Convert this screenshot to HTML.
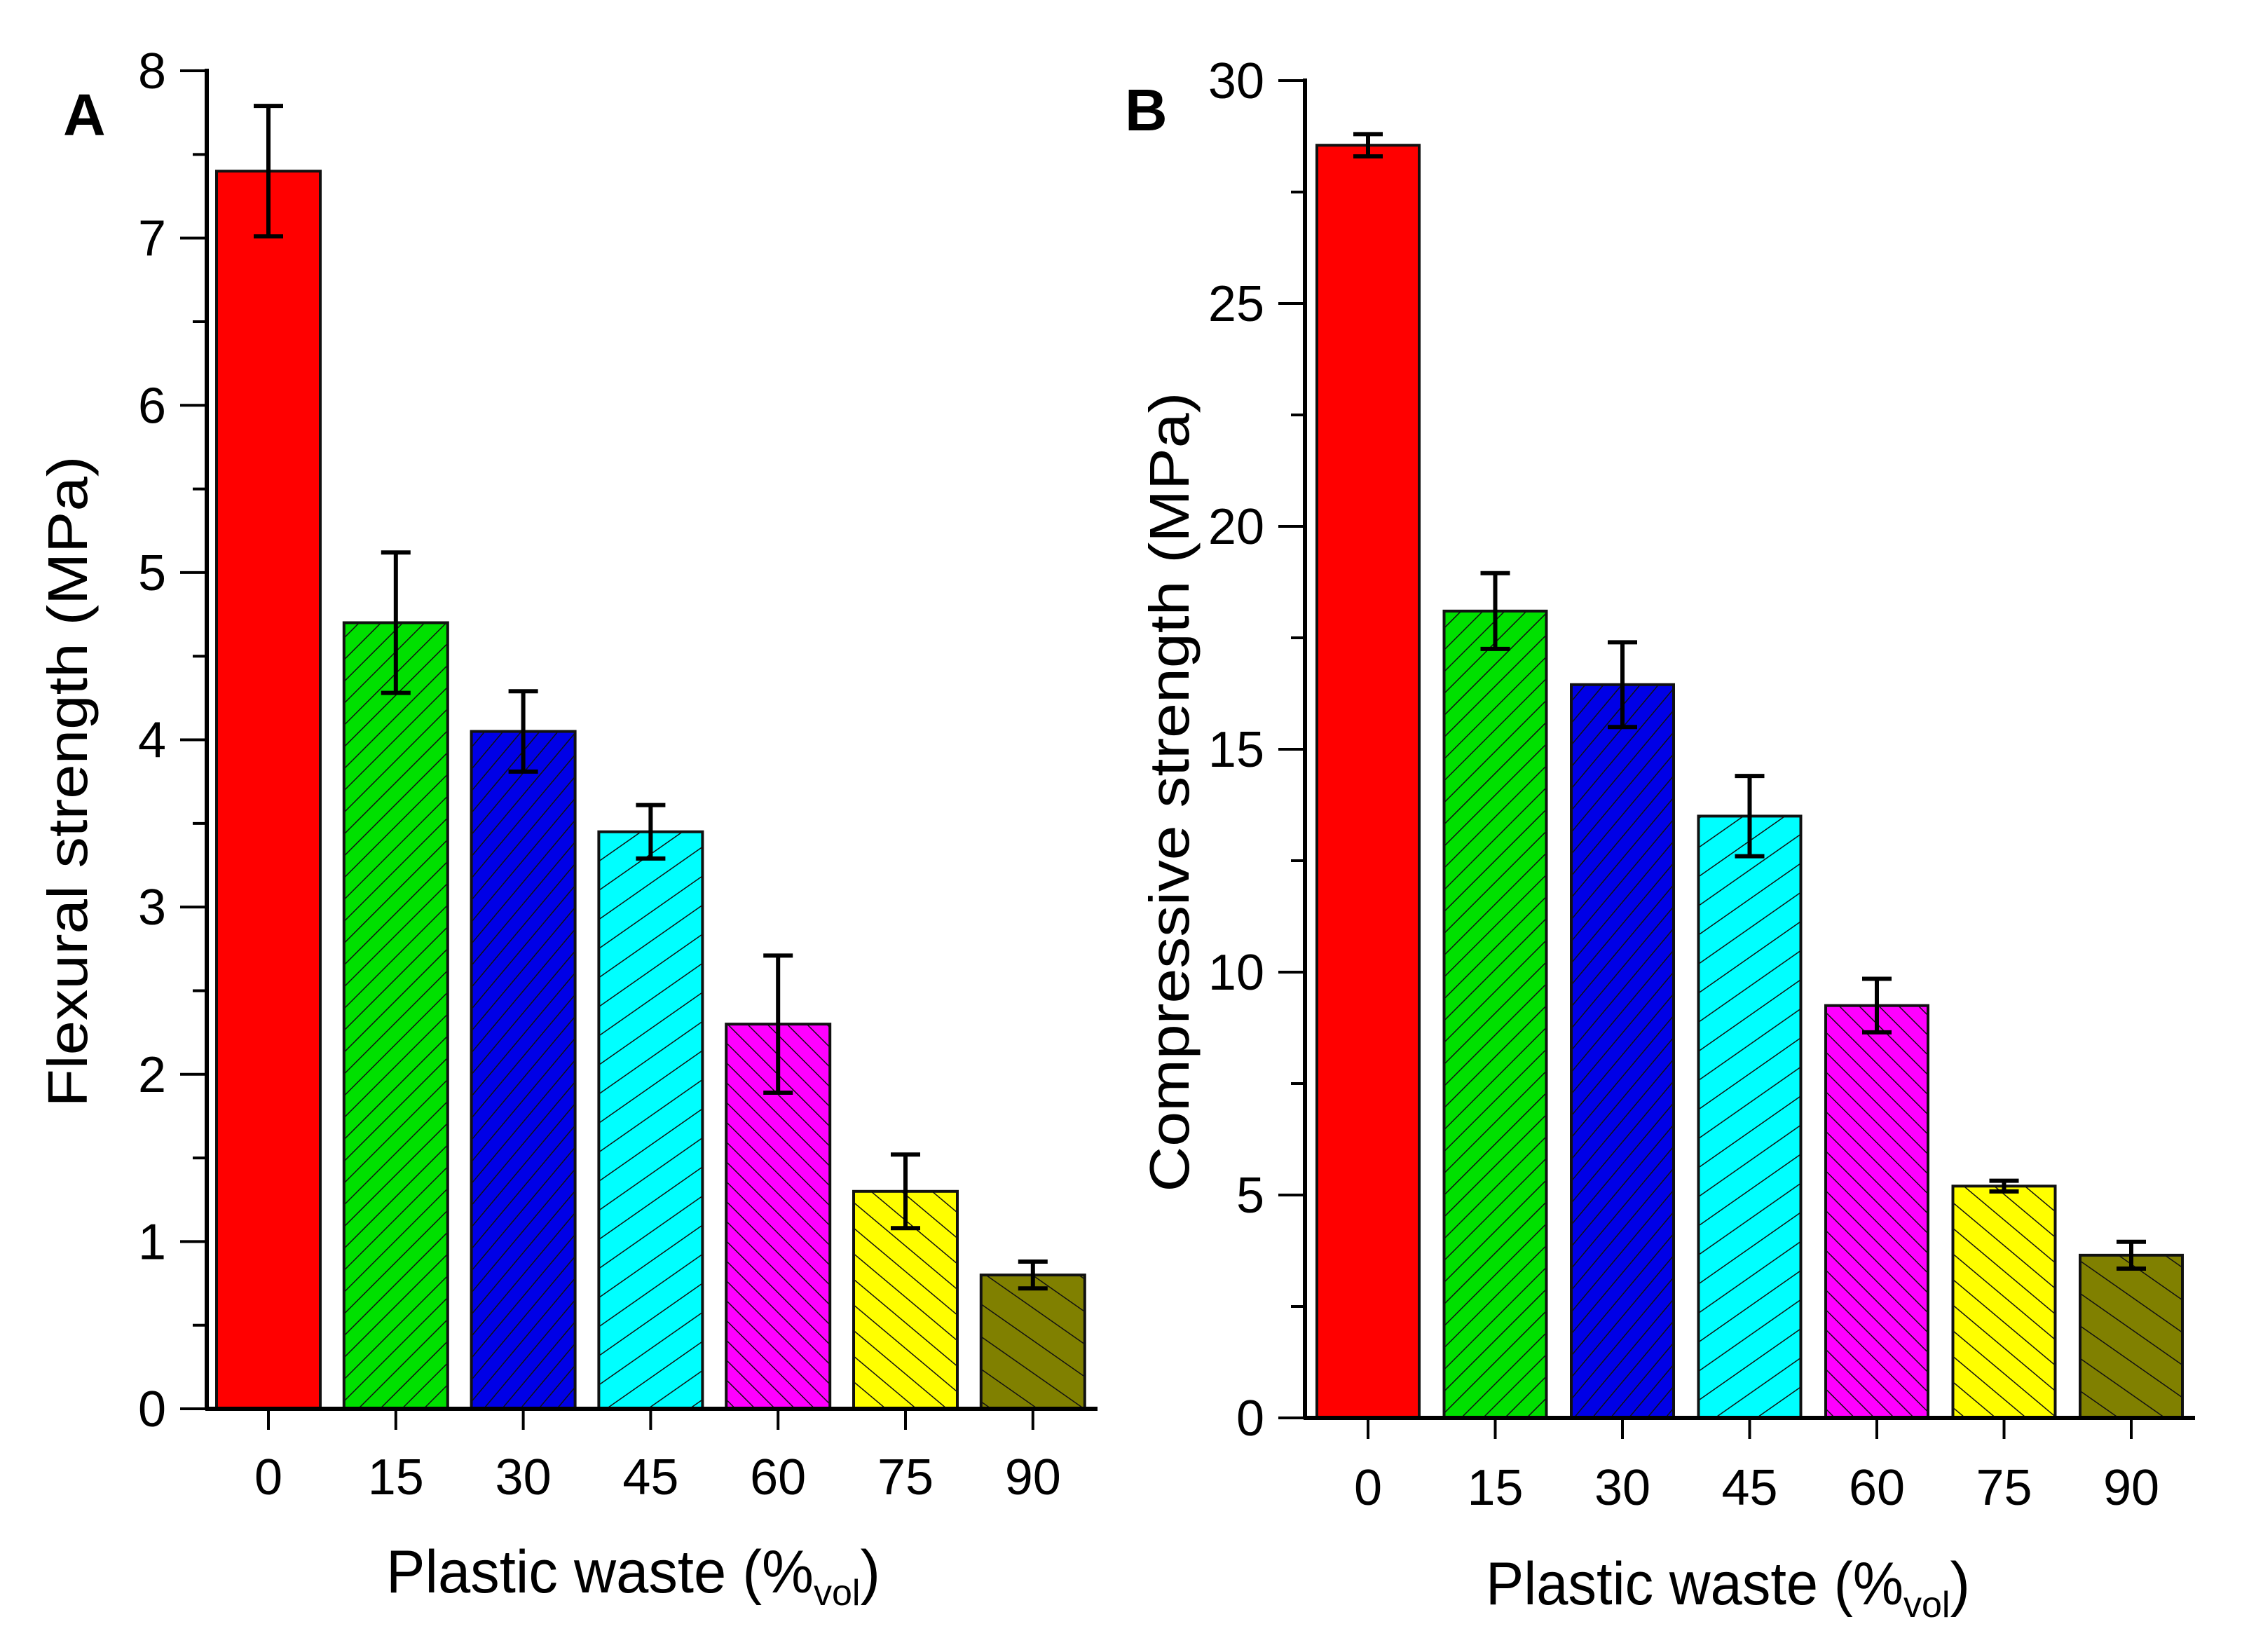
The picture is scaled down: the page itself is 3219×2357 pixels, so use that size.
<!DOCTYPE html>
<html><head><meta charset="utf-8"><style>
html,body{margin:0;padding:0;background:#fff;}
svg{display:block;}
text{font-family:"Liberation Sans",Arial,sans-serif;fill:#000;}
</style></head><body>
<svg id="c" width="3219" height="2357" viewBox="0 0 3219 2357" xmlns="http://www.w3.org/2000/svg">
<defs>
<pattern id="pG" patternUnits="userSpaceOnUse" width="22" height="22" patternTransform="rotate(45)"><rect width="22" height="22" fill="#00e000"/><line x1="0" y1="0" x2="0" y2="22" stroke="#111" stroke-width="3"/></pattern>
<pattern id="pB" patternUnits="userSpaceOnUse" width="20" height="20" patternTransform="rotate(40)"><rect width="20" height="20" fill="#0000e6"/><line x1="0" y1="0" x2="0" y2="20" stroke="#111" stroke-width="3"/></pattern>
<pattern id="pC" patternUnits="userSpaceOnUse" width="34" height="34" patternTransform="rotate(55)"><rect width="34" height="34" fill="#00ffff"/><line x1="0" y1="0" x2="0" y2="34" stroke="#111" stroke-width="3"/></pattern>
<pattern id="pM" patternUnits="userSpaceOnUse" width="20" height="20" patternTransform="rotate(-45)"><rect width="20" height="20" fill="#ff00ff"/><line x1="0" y1="0" x2="0" y2="20" stroke="#111" stroke-width="3"/></pattern>
<pattern id="pY" patternUnits="userSpaceOnUse" width="28" height="28" patternTransform="rotate(-50)"><rect width="28" height="28" fill="#ffff00"/><line x1="0" y1="0" x2="0" y2="28" stroke="#111" stroke-width="3"/></pattern>
<pattern id="pO" patternUnits="userSpaceOnUse" width="38" height="38" patternTransform="rotate(-55)"><rect width="38" height="38" fill="#808000"/><line x1="0" y1="0" x2="0" y2="38" stroke="#111" stroke-width="3"/></pattern>
</defs>
</svg>
<script>
const categories = ["0","15","30","45","60","75","90"];
const flexValues = [7.4, 4.7, 4.05, 3.45, 2.3, 1.3, 0.8];
const flexErrors = [0.39, 0.42, 0.24, 0.16, 0.41, 0.22, 0.08];
const flexTicks = [0,1,2,3,4,5,6,7,8];
const compValues = [28.55, 18.1, 16.45, 13.5, 9.25, 5.2, 3.65];
const compErrors = [0.25, 0.85, 0.95, 0.9, 0.6, 0.12, 0.3];
const compTicks = [0,5,10,15,20,25,30];
const fills = ["#ff0000","url(#pG)","url(#pB)","url(#pC)","url(#pM)","url(#pY)","url(#pO)"];

const svg = document.getElementById('c');
const NS = "http://www.w3.org/2000/svg";
function mk(tag, attrs, parent){const e=document.createElementNS(NS,tag);for(const k in attrs)e.setAttribute(k,attrs[k]);(parent||svg).appendChild(e);return e;}

function panel(cfg){
  const g = mk('g',{});
  
  
  const y = v => cfg.y0 - (v - cfg.min)/(cfg.max-cfg.min)*(cfg.y0-cfg.y1);
  const x = i => cfg.c0 + i*cfg.step;
  cfg.values.forEach((v,i)=>{
    const r = mk('rect',{x:x(i)-cfg.bw/2,y:y(v),width:cfg.bw,height:y(0)-y(v),fill:fills[i],stroke:'#111','stroke-width':4},g);
    
    
  });
  cfg.values.forEach((v,i)=>{
    const e=cfg.errors[i], eg=mk('g',{stroke:'#000','stroke-width':6},g);
    
    
    mk('line',{x1:x(i),x2:x(i),y1:y(v+e),y2:y(v-e)},eg);
    mk('line',{x1:x(i)-21,x2:x(i)+21,y1:y(v+e),y2:y(v+e)},eg);
    mk('line',{x1:x(i)-21,x2:x(i)+21,y1:y(v-e),y2:y(v-e)},eg);
  });
  const ax = mk('line',{x1:cfg.ax,x2:cfg.ax,y1:y(cfg.max)-3,y2:y(0)+2,stroke:'#000','stroke-width':6},g);
   
  const bx = mk('line',{x1:cfg.ax-2,x2:cfg.xend,y1:y(0),y2:y(0),stroke:'#000','stroke-width':6},g);
   
  cfg.ticks.forEach((t,k)=>{
    mk('line',{x1:cfg.ax-38,x2:cfg.ax,y1:y(t),y2:y(t),stroke:'#000','stroke-width':4},g);
    if(k<cfg.ticks.length-1){const m=(t+cfg.ticks[k+1])/2;mk('line',{x1:cfg.ax-20,x2:cfg.ax,y1:y(m),y2:y(m),stroke:'#000','stroke-width':4},g);}
    const tl = mk('text',{x:cfg.ax-58,y:y(t)+25,'text-anchor':'end','font-size':72},g);
    tl.textContent = t;
    
    
  });
  categories.forEach((c,i)=>{
    mk('line',{x1:x(i),x2:x(i),y1:y(0),y2:y(0)+30,stroke:'#000','stroke-width':4},g);
    const tl = mk('text',{x:x(i),y:cfg.xlab,'text-anchor':'middle','font-size':72},g);
    tl.textContent = c;
    
    
  });
  const yt = mk('text',{x:0,y:0,transform:`translate(${cfg.ytx},${cfg.ytc}) rotate(-90)`,'text-anchor':'middle','font-size':80,textLength:cfg.ytl,lengthAdjust:'spacingAndGlyphs'},g);
  yt.textContent = cfg.ytitle;
  
  
  const xt = mk('text',{x:cfg.xtx,y:cfg.xty,'font-size':86},g);
  
  
  xt.innerHTML = '<tspan textLength="' + cfg.xtl + '" lengthAdjust="spacingAndGlyphs">Plastic waste (%</tspan><tspan font-size="52" dy="18">vol</tspan><tspan dy="-18">)</tspan>';
  const lab = mk('text',{x:cfg.lx,y:cfg.ly,'font-size':84,'font-weight':'bold'},g);
  lab.textContent = cfg.label;
  
  
}

panel({name:'panel-a-flexural',values:flexValues,errors:flexErrors,ticks:flexTicks,min:0,max:8,y0:2010,y1:101,
  c0:383,step:181.8,bw:148,ax:295,xend:1566,xlab:2132,ytitle:'Flexural strength (MPa)',ytx:124,ytc:1115,ytl:929,
  xtx:551,xty:2272,xtl:610,label:'A',lx:90,ly:193});
panel({name:'panel-b-compressive',values:compValues,errors:compErrors,ticks:compTicks,min:0,max:30,y0:2023,y1:115,
  c0:1952,step:181.5,bw:146,ax:1862,xend:3132,xlab:2147,ytitle:'Compressive strength (MPa)',ytx:1696,ytc:1130,ytl:1141,
  xtx:2120,xty:2289,xtl:596,label:'B',lx:1605,ly:186});
</script>
</body></html>
